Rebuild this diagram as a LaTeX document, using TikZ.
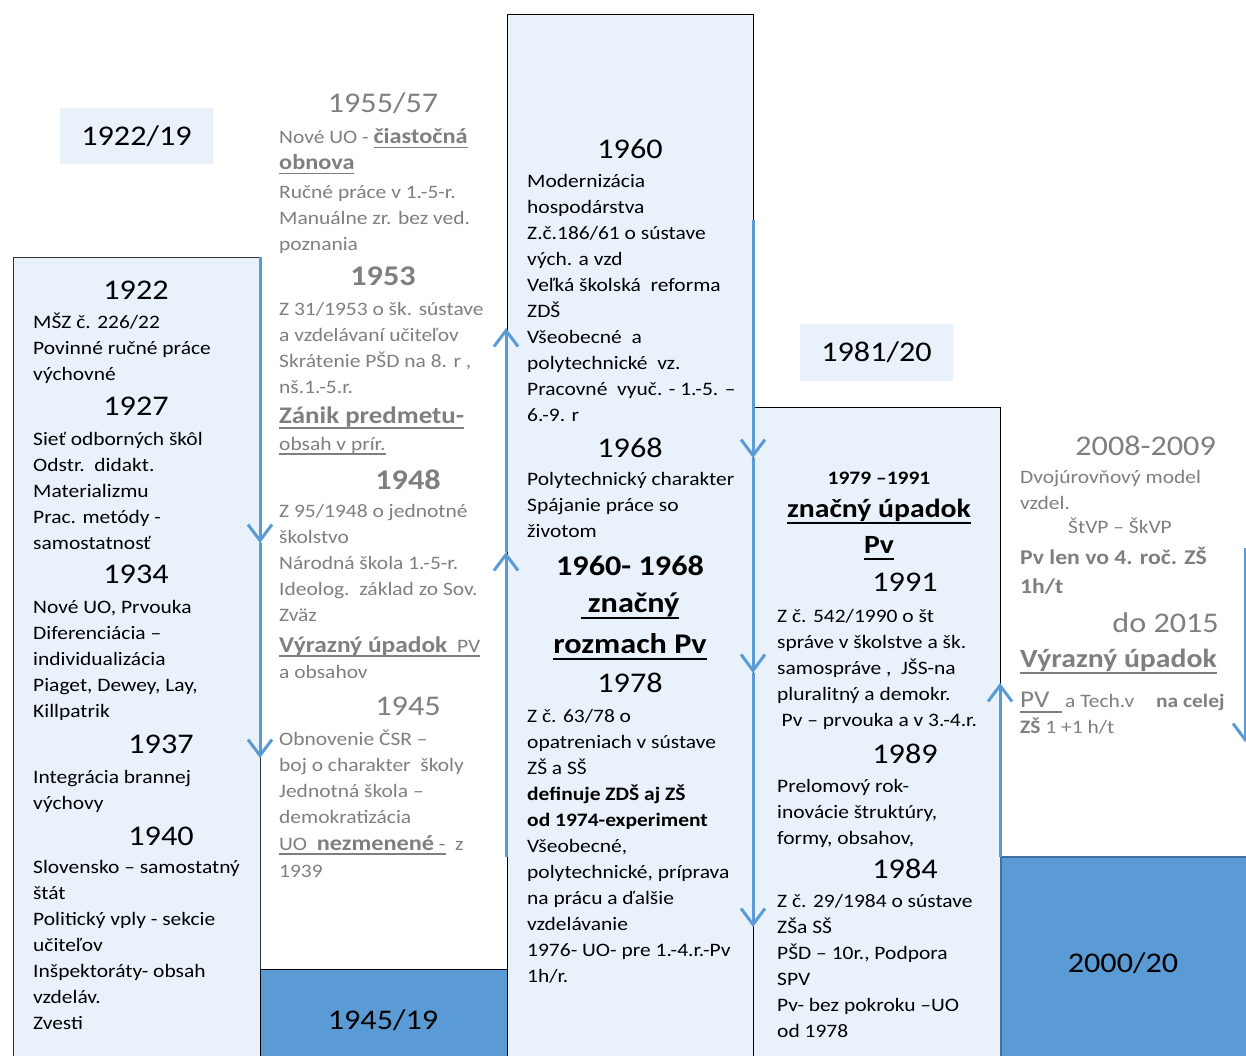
\documentclass[tikz,border=0pt]{standalone}
\usepackage{fontspec}
\setmainfont{Carlito}[FakeStretch=1.13]
\usetikzlibrary{arrows.meta}
\definecolor{lightfill}{HTML}{E9F1FA}
\definecolor{midblue}{HTML}{5B9BD5}
\definecolor{darkblue}{HTML}{41719C}
\definecolor{graytext}{HTML}{7F7F7F}
\newcommand\myul[1]{\setbox0=\hbox{#1}\rlap{\rule[-0.25em]{\wd0}{0.075em}}\box0}
\newcommand\para[5][]{\foreach \ltext [count=\i] in {#5}{\node[ln,#1] (#2\i) at (#3,{#4+26*(\i-1)}) {\ltext};}}
\newcommand\bigb{\fontsize{21.5}{26}\selectfont\bfseries}
\begin{document}
\begin{tikzpicture}[x=1pt,y=-1pt,
  ln/.style={anchor=base west,inner sep=0pt,font=\fontsize{19}{23}\selectfont},
  lnc/.style={anchor=base,inner sep=0pt,font=\fontsize{19}{23}\selectfont},
  yr/.style={anchor=base,inner sep=0pt,font=\fontsize{28.5}{34}\selectfont},
  yrb/.style={yr,font=\fontsize{28.5}{34}\selectfont\bfseries},
  col/.style={draw=black,line width=0.9pt,fill=lightfill},
  lab/.style={fill=lightfill,inner sep=0pt,text height=18pt,text depth=0pt,minimum width=153pt,minimum height=56pt,font=\fontsize{28.5}{34}\selectfont},
  arr/.style={draw=midblue,line width=3pt,-{Straight Barb[length=16pt,width=24pt]}}]
\fill[white] (0,0) rectangle (1246,1055);
\useasboundingbox (0,0) rectangle (1246,1055);
% columns
\draw[col,draw=black!80] (13,257) rectangle (260,1065);
\draw[col] (507,14) rectangle (753,1065);
\draw[col] (753,407) rectangle (1000,1065);
\draw[draw=black,line width=0.9pt,fill=midblue] (260,969) rectangle (507,1065);
\draw[draw=darkblue,line width=2pt,fill=midblue] (1001,857) rectangle (1256,1065);
% labels
\node[lab] (l1922) at (136.5,136) {1922/19};
\node[lab,minimum width=153pt,minimum height=57pt] (l1981) at (876.5,352) {1981/20};
\node[yr] (l1945) at (383,1029) {1945/19};
\node[yr] (l2000) at (1123,972) {2000/20};
% arrows
\coordinate (a1s) at (260,257); \coordinate (a1m) at (260,543); \coordinate (a1e) at (260,758);
\coordinate (a2s) at (506,857); \coordinate (a2m) at (506,552); \coordinate (a2e) at (506,328);
\coordinate (a3s) at (753,220); \coordinate (a3m) at (753,458); \coordinate (a3n) at (753,673); \coordinate (a3e) at (753,927);
\coordinate (a4s) at (1000,857); \coordinate (a4e) at (1000,683);
\coordinate (a5s) at (1245,548); \coordinate (a5e) at (1245,742);
\draw[arr] (a1s) -- (a1m); \draw[arr] (a1m) -- (a1e);
\draw[arr] (a2s) -- (a2m); \draw[arr] (a2m) -- (a2e);
\draw[arr] (a3s) -- (a3m); \draw[arr] (a3m) -- (a3n); \draw[arr] (a3n) -- (a3e);
\draw[arr] (a4s) -- (a4e);
\draw[arr] (a5s) -- (a5e);
% column 1
\node[yr] (y1922) at (136,299) {1922};
\para{c1a}{33}{328}{MŠZ č. 226/22,Povinné ručné práce,výchovné}
\node[yr] (y1927) at (136,415) {1927};
\para{c1b}{33}{445}{Sieť odborných škôl,Odstr.\ \ didakt.,Materializmu,Prac. metódy -,samostatnosť}
\node[yr] (y1934) at (136,583) {1934};
\para{c1c}{33}{613}{{Nové UO, Prvouka},Diferenciácia –,individualizácia,{Piaget, Dewey, Lay,},Killpatrik}
\node[yr] (y1937) at (161,753) {1937};
\para{c1d}{33}{783}{Integrácia brannej,výchovy}
\node[yr] (y1940) at (161,845) {1940};
\para{c1e}{33}{873}{Slovensko – samostatný,štát,Politický vply - sekcie,učiteľov,Inšpektoráty- obsah,vzdeláv.,Zvesti}
% column 2 (gray)
\begin{scope}[every node/.append style={text=graytext}]
\node[yr] (y1955) at (383,112) {1955/57};
\node[ln] (c2a) at (279,143) {Nové UO - {\bigb\myul{čiastočná}}};
\node[ln,font=\bigb] (c2b) at (279,169) {\myul{obnova}};
\para{c2c}{279}{198}{Ručné práce v 1.-5-r.,Manuálne zr. bez ved.,poznania}
\node[yrb] (y1953) at (383,285) {1953};
\para{c2d}{279}{315}{Z 31/1953 o šk. sústave,a vzdelávaní učiteľov,{Skrátenie PŠD na 8. r ,},nš.1.-5.r.}
\node[ln,font=\fontsize{23.8}{28}\selectfont\bfseries] (c2e) at (279,423) {\myul{Zánik predmetu-}};
\node[ln] (c2f) at (279,450) {\myul{obsah v prír.}};
\node[yrb] (y1948) at (408,489) {1948};
\para{c2g}{279}{517}{Z 95/1948 o jednotné,školstvo,Národná škola 1.-5-r.,Ideolog.\ \ základ zo Sov.,Zväz}
\node[ln] (c2h) at (279,652) {\myul{{\fontsize{22.5}{27}\selectfont\bfseries Výrazný úpadok}\ \ PV}};
\node[ln] (c2i) at (279,678) {a obsahov};
\node[yr] (y1945) at (408,715) {1945};
\para{c2j}{279}{745}{Obnovenie ČSR –,boj o charakter\ \ školy,Jednotná škola –,demokratizácia}
\node[ln] (c2k) at (279,850) {\myul{UO\ \ {\bigb nezmenené} -}\ \ z};
\node[ln] (c2l) at (279,877) {1939};
\end{scope}
% column 3
\node[yr] (y1960) at (630,158) {1960};
\para{c3a}{527}{187}{Modernizácia,hospodárstva,Z.č.186/61 o sústave,vých. a vzd,Veľká školská\ \ reforma,ZDŠ,Všeobecné\ \ a,polytechnické\ \ vz.,Pracovné\ \ vyuč. - 1.-5. –,6.-9. r}
\node[yr] (y1968) at (630,457) {1968};
\para{c3b}{527}{485}{Polytechnický charakter,Spájanie práce so,životom}
\node[yrb] (y6068) at (630,575) {1960- 1968};
\node[yrb] (c3c) at (630,612) {\myul{\ značný}};
\node[yrb] (c3d) at (630,653) {\myul{rozmach Pv}};
\node[yr] (y1978) at (630,692) {1978};
\para{c3e}{527}{722}{Z č. 63/78 o,opatreniach v sústave,ZŠ a SŠ,\textbf{definuje ZDŠ aj ZŠ},\textbf{od 1974-experiment},{Všeobecné,},{polytechnické, príprava},na prácu a ďalšie,vzdelávanie,1976- UO- pre 1.-4.r.-Pv,1h/r.}
% column 4
\node[lnc,font=\fontsize{19}{23}\selectfont\bfseries] (y7991) at (879,484) {1979 –1991};
\node[yrb,font=\fontsize{26.3}{31}\selectfont\bfseries] (c4a) at (879,517) {\myul{značný úpadok}};
\node[yrb,font=\fontsize{26.3}{31}\selectfont\bfseries] (c4b) at (879,553) {\myul{Pv}};
\node[yr] (y1991) at (905,591) {1991};
\para{c4c}{777}{622}{Z č. 542/1990 o št,správe v školstve a šk.,{samospráve ,\ \ JŠS-na},pluralitný a demokr.,\hspace*{4.5pt}Pv – prvouka a v 3.-4.r.}
\node[yr] (y1989) at (905,763) {1989};
\para{c4d}{777}{792}{Prelomový rok-,{inovácie štruktúry,},{formy, obsahov,}}
\node[yr] (y1984) at (905,878) {1984};
\para{c4e}{777}{907}{Z č. 29/1984 o sústave,ZŠa SŠ,{PŠD – 10r., Podpora},SPV,Pv- bez pokroku –UO,od 1978}
% column 5 (gray)
\begin{scope}[every node/.append style={text=graytext}]
\node[yr,anchor=base east] (y2008) at (1216,455) {2008-2009};
\para{c5a}{1020}{483}{Dvojúrovňový model,vzdel.}
\node[ln] (c5b) at (1068,533) {ŠtVP – ŠkVP};
\node[ln,font=\fontsize{21}{25}\selectfont\bfseries] (c5c) at (1020,564) {Pv len vo 4. roč. ZŠ};
\node[ln,font=\fontsize{21}{25}\selectfont\bfseries] (c5d) at (1020,593) {1h/t};
\node[yr,anchor=base east] (y2015) at (1219,632) {do 2015};
\node[ln,font=\fontsize{26.3}{31}\selectfont\bfseries] (c5e) at (1020,667) {\myul{Výrazný úpadok}};
\node[ln,font=\fontsize{24}{28}\selectfont] (c5f) at (1020,707) {\myul{PV\ \ }};
\node[ln] (c5g) at (1065,707) {a Tech.v};
\node[ln,font=\fontsize{19}{23}\selectfont\bfseries] (c5h) at (1156,707) {na celej};
\node[ln] (c5i) at (1020,733) {\textbf{ZŠ} 1 +1 h/t};
\end{scope}
\end{tikzpicture}
\end{document}
